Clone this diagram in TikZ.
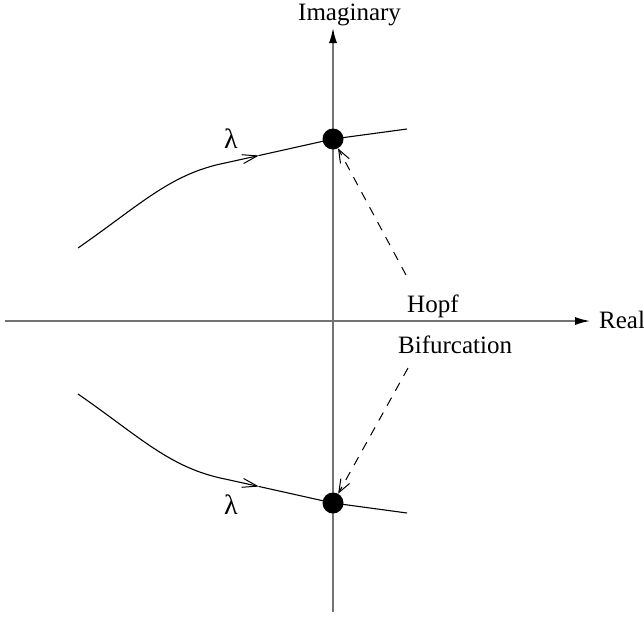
\documentclass[tikz,border=0pt]{standalone}
\usepackage{fontspec}
\setmainfont{Liberation Serif}
\usetikzlibrary{arrows.meta}
\begin{document}
\begin{tikzpicture}[x=1pt,y=-1pt,
  axisline/.style={draw=black!55, line width=1.4pt, -{Latex[black,length=15pt,width=8pt]}},
  curveline/.style={draw=black, line width=1.1pt},
  midarrow/.style={draw=black, line width=1.1pt, -{Straight Barb[length=15pt,width=9pt,line width=1pt]}},
  dasharrow/.style={draw=black, line width=1pt, dash pattern=on 9pt off 8pt, -{Straight Barb[length=13pt,width=10pt,line width=1pt]}},
  dotnode/.style={circle, fill=black, minimum size=21pt, inner sep=0pt},
  lbl/.style={inner sep=0pt, anchor=base west, font=\fontsize{25}{29}\selectfont},
  lamlbl/.style={inner sep=0pt, anchor=base west, font=\fontsize{28}{32}\selectfont}]
\useasboundingbox (0,0) rectangle (644,616);
% axes
\coordinate (xl) at (5,321);
\coordinate (xr) at (590,321);
\coordinate (yb) at (333,612);
\coordinate (yt) at (333,28);
\draw[axisline] (xl) -- (xr);
\draw[axisline] (yb) -- (yt);
\node[lbl] (real) at (599,328) {Real};
\node[lbl] (imag) at (298,20) {Imaginary};
% eigenvalue dots
\node[dotnode] (p1) at (333,139) {};
\node[dotnode] (p2) at (333,503) {};
% upper branch
\coordinate (u0) at (78,248);
\coordinate (u1) at (225,163);
\coordinate (um) at (259,155.5);
\coordinate (u2) at (407,129);
\draw[curveline] (u0) .. controls (140,205) and (170,174) .. (u1);
\draw[midarrow] (u1) -- (um);
\draw[curveline] (um) -- (p1.center) -- (u2);
% lower branch
\coordinate (l0) at (78,394);
\coordinate (l1) at (225,479);
\coordinate (lm) at (259,486.5);
\coordinate (l2) at (407,513);
\draw[curveline] (l0) .. controls (140,437) and (170,468) .. (l1);
\draw[midarrow] (l1) -- (lm);
\draw[curveline] (lm) -- (p2.center) -- (l2);
% lambda labels
\node[lamlbl] (lam1) at (224,148) {λ};
\node[lamlbl] (lam2) at (224,514) {λ};
% Hopf bifurcation labels and pointers
\node[lbl] (hopf) at (407,312) {Hopf};
\node[lbl] (bif) at (398,353) {Bifurcation};
\coordinate (h1) at (406,275);
\coordinate (h2) at (408,368);
\draw[dasharrow] (h1) -- (p1);
\draw[dasharrow] (h2) -- (p2);
\end{tikzpicture}
\end{document}
